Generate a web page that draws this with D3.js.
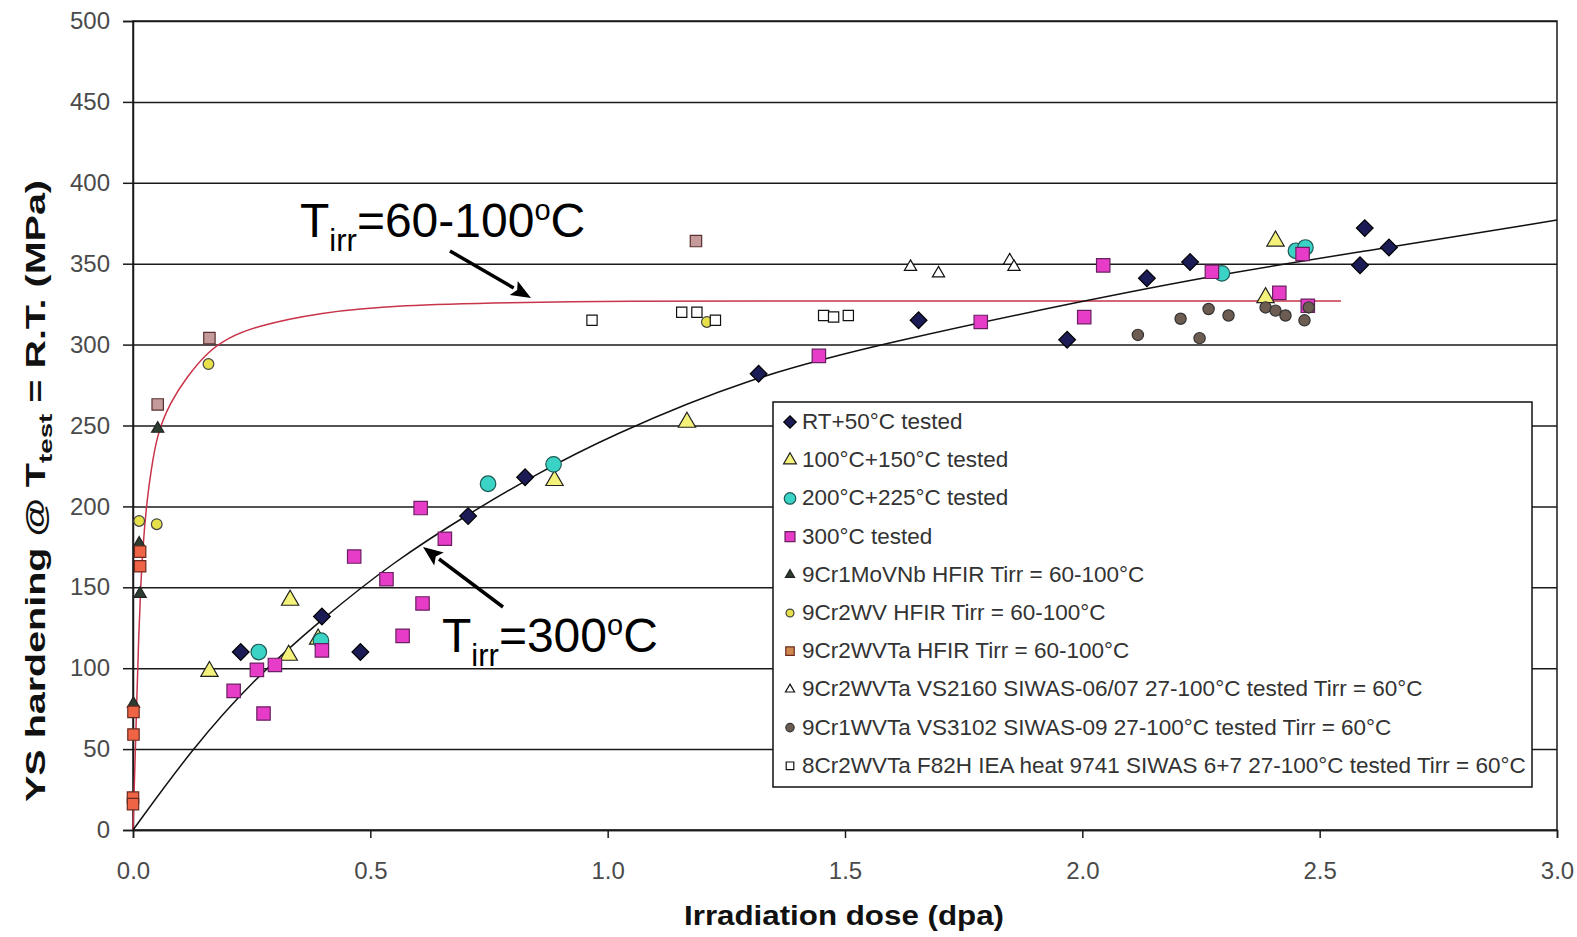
<!DOCTYPE html>
<html>
<head>
<meta charset="utf-8">
<script src="https://cdn.jsdelivr.net/npm/d3@7"></script>
<style>
  body { margin: 0; background: #fff; }
  svg { display: block; font-family: "Liberation Sans", Arial, sans-serif; }
  .tick text { fill: #4a4a4a; font-size: 24px; }
  .grid line { stroke: #1a1a1a; stroke-width: 1.5; }
  .grid path { display: none; }
</style>
</head>
<body>
<svg id="chart" width="1577" height="937"></svg>
<script>
// dose (dpa), YS hardening (MPa)
const rt50 = [[0.227,110],[0.398,132],[0.479,110],[0.706,194],[0.826,218],[1.318,282],[1.655,315],
  [1.968,303],[2.136,341],[2.227,351],[2.585,349],[2.595,372],[2.646,360]]
const t100_150 = [[0.161,98],[0.331,142],[0.328,108],[0.39,118],[0.888,216],[1.167,252],[2.407,364],[2.386,329]]
const t200_225 = [[0.265,110],[0.396,117],[0.748,214],[0.886,226],[2.294,344],[2.45,358],[2.47,360]]
const t300 = [[0.212,86],[0.261,99],[0.275,72],[0.299,102],[0.398,111],[0.466,169],[0.534,155],[0.568,120],
  [0.610,140],[0.606,199],[0.657,180],[1.445,293],[1.786,314],[2.004,317],[2.044,349],[2.273,345],
  [2.415,332],[2.464,356],[2.475,324]]
const cr1MoVNb = [[0.001,78],[0.015,146],[0.013,177],[0.052,248]]
const cr2WV = [[0.013,191],[0.050,189],[0.159,288],[1.209,314]]
const cr2WVTaHfir = [[0.001,73],[0.001,59],[0.0,20],[0.0,16],[0.015,172],[0.015,163]]
const cr2WVTaHfirGrey = [[0.052,263],[0.161,304],[1.186,364]]
const vs2160 = [[1.638,348],[1.697,344],[1.847,352],[1.856,348]]
const vs3102 = [[2.117,306],[2.207,316],[2.247,304],[2.266,322],[2.308,318],[2.386,323],[2.407,321],
  [2.428,318],[2.468,315],[2.477,323]]
const f82h = [[0.967,315],[1.156,320],[1.188,320],[1.227,315],[1.455,318],[1.476,317],[1.507,318]]

// trend curves
const curveLowT = [[0,0],[0.004,40],[0.008,80],[0.012,120],[0.016,150],[0.022,180],[0.03,205],[0.038,222],
  [0.051,245],[0.078,264],[0.113,280],[0.159,296],[0.2,304],[0.254,311],[0.394,320],[0.563,324.5],
  [0.8,326],[1.0,327],[1.5,327],[2.0,327],[2.545,327]]
const curve300 = [[0,0],[0.124,50],[0.25,92],[0.4,131],[0.55,166],[0.71,196],[0.85,220],[1.0,243],
  [1.3,280],[1.6,302],[2.0,327],[2.3,344],[2.6,358],[3.0,377]]

const xTicks = [0, 0.5, 1.0, 1.5, 2.0, 2.5, 3.0]
const yTicks = [0, 50, 100, 150, 200, 250, 300, 350, 400, 450, 500]

const series = [
  {name: 'RT+50°C tested', data: rt50, sym: 'diamond', fill: '#1b1b55', stroke: '#000', size: 140},
  {name: '100°C+150°C tested', data: t100_150, sym: d3.symbolTriangle, fill: '#f4f27a', stroke: '#222', size: 130},
  {name: '200°C+225°C tested', data: t200_225, sym: d3.symbolCircle, fill: '#3ad3c6', stroke: '#1d5a55', size: 190},
  {name: '300°C tested', data: t300, sym: d3.symbolSquare, fill: '#e63cc8', stroke: '#6a2060', size: 180},
  {name: '9Cr1MoVNb HFIR Tirr = 60-100°C', data: cr1MoVNb, sym: d3.symbolTriangle, fill: '#2c3d30', stroke: '#222', size: 65},
  {name: '9Cr2WV HFIR Tirr = 60-100°C', data: cr2WV, sym: d3.symbolCircle, fill: '#e6e04a', stroke: '#444', size: 90},
  {name: '9Cr2WVTa HFIR Tirr = 60-100°C', data: cr2WVTaHfir, sym: d3.symbolSquare, fill: '#ee6444', stroke: '#6a2a20', size: 130, legendFill: '#d08a50'},
  {name: null, data: cr2WVTaHfirGrey, sym: d3.symbolSquare, fill: '#c49a9a', stroke: '#5a3030', size: 130},
  {name: '9Cr2WVTa VS2160 SIWAS-06/07 27-100°C tested Tirr = 60°C', data: vs2160, sym: d3.symbolTriangle, fill: '#fff', stroke: '#111', size: 65},
  {name: '9Cr1WVTa VS3102 SIWAS-09 27-100°C tested Tirr = 60°C', data: vs3102, sym: d3.symbolCircle, fill: '#6c5c52', stroke: '#333', size: 100},
  {name: '8Cr2WVTa F82H IEA heat 9741 SIWAS 6+7 27-100°C tested Tirr = 60°C', data: f82h, sym: d3.symbolSquare, fill: '#fff', stroke: '#111', size: 105}
]

const svg = d3.select('#chart')
const plotL = 133, plotR = 1557, plotT = 21, plotB = 830

const x = d3.scaleLinear().domain([0, 3]).range([plotL, plotR])
const y = d3.scaleLinear().domain([0, 500]).range([plotB, plotT])

// gridlines
svg.append('g').attr('class', 'grid')
  .attr('transform', `translate(${plotL},0)`)
  .call(d3.axisLeft(y).tickValues(yTicks).tickSize(-(plotR - plotL)).tickFormat(''))

// plot frame
svg.append('rect')
  .attr('x', plotL).attr('y', plotT)
  .attr('width', plotR - plotL).attr('height', plotB - plotT)
  .attr('fill', 'none').attr('stroke', '#1a1a1a').attr('stroke-width', 1.5)

const yAxis = svg.append('g')
  .attr('transform', `translate(${plotL},0)`)
  .call(d3.axisLeft(y).tickValues(yTicks).tickSize(10).tickPadding(13).tickFormat(d3.format('d')))
yAxis.select('.domain').attr('stroke', '#1a1a1a').attr('stroke-width', 1.5)
yAxis.selectAll('.tick line').attr('stroke', '#1a1a1a').attr('stroke-width', 1.5)

const xAxis = svg.append('g')
  .attr('transform', `translate(0,${plotB})`)
  .call(d3.axisBottom(x).tickValues(xTicks).tickSize(8).tickPadding(24).tickFormat(d3.format('.1f')))
xAxis.select('.domain').attr('stroke', '#1a1a1a').attr('stroke-width', 1.5)
xAxis.selectAll('.tick line').attr('stroke', '#1a1a1a').attr('stroke-width', 1.5)

// axis titles
svg.append('text')
  .attr('x', 844).attr('y', 925)
  .attr('text-anchor', 'middle')
  .attr('font-size', 27).attr('font-weight', 'bold').attr('fill', '#111')
  .attr('textLength', 320).attr('lengthAdjust', 'spacingAndGlyphs')
  .text('Irradiation dose (dpa)')

let yt = svg.append('text')
  .attr('transform', 'translate(45,491) rotate(-90)')
  .attr('text-anchor', 'middle')
  .attr('font-size', 27).attr('font-weight', 'bold').attr('fill', '#111')
  .attr('textLength', 622).attr('lengthAdjust', 'spacingAndGlyphs')
yt.append('tspan').text('YS hardening @ T')
yt.append('tspan').attr('font-size', 19).attr('dy', 7).text('test')
yt.append('tspan').attr('dy', -7).text(' = R.T. (MPa)')

// trend curves
const line = d3.line().x(d => x(d[0])).y(d => y(d[1])).curve(d3.curveBasis)

svg.append('path').datum(curveLowT)
  .attr('d', line).attr('fill', 'none')
  .attr('stroke', '#c8344a').attr('stroke-width', 1.5)

svg.append('path').datum(curve300)
  .attr('d', line).attr('fill', 'none')
  .attr('stroke', '#111').attr('stroke-width', 1.5)

// points
function symPath(s, size) {
  if (s === 'diamond') return d3.symbol(d3.symbolSquare, size)()
  return d3.symbol(s, size)()
}

series.forEach(s => {
  svg.append('g').selectAll('path')
    .data(s.data)
    .enter()
    .append('path')
    .attr('d', symPath(s.sym, s.size))
    .attr('transform', d => `translate(${x(d[0])},${y(d[1])})` + (s.sym === 'diamond' ? ' rotate(45)' : ''))
    .attr('fill', s.fill)
    .attr('stroke', s.stroke)
    .attr('stroke-width', 1.2)
})

// annotations
function arrow(x1, y1, x2, y2) {
  let ang = Math.atan2(y2 - y1, x2 - x1)
  let len = 20, w = 8
  let bx = x2 - len * Math.cos(ang), by = y2 - len * Math.sin(ang)
  svg.append('line')
    .attr('x1', x1).attr('y1', y1).attr('x2', bx).attr('y2', by)
    .attr('stroke', '#000').attr('stroke-width', 3.5)
  svg.append('path')
    .attr('d', `M${x2},${y2} L${bx + w * Math.sin(ang)},${by - w * Math.cos(ang)} L${bx + 4 * Math.cos(ang)},${by + 4 * Math.sin(ang)} L${bx - w * Math.sin(ang)},${by + w * Math.cos(ang)} Z`)
    .attr('fill', '#000')
}

let a1 = svg.append('text').attr('x', 300).attr('y', 237).attr('font-size', 48).attr('fill', '#000')
a1.append('tspan').text('T')
a1.append('tspan').attr('font-size', 31).attr('dy', 14).text('irr')
a1.append('tspan').attr('dy', -14).text('=60-100')
a1.append('tspan').attr('font-size', 29).attr('dy', -17).text('o')
a1.append('tspan').attr('dy', 17).text('C')
arrow(450, 251, 531, 298)

let a2 = svg.append('text').attr('x', 442).attr('y', 652).attr('font-size', 48).attr('fill', '#000')
a2.append('tspan').text('T')
a2.append('tspan').attr('font-size', 31).attr('dy', 14).text('irr')
a2.append('tspan').attr('dy', -14).text('=300')
a2.append('tspan').attr('font-size', 29).attr('dy', -17).text('o')
a2.append('tspan').attr('dy', 17).text('C')
arrow(503, 607, 423, 547)

// legend
const legItems = series.filter(s => s.name)
const lg = svg.append('g')
lg.append('rect')
  .attr('x', 773).attr('y', 402).attr('width', 759).attr('height', 385)
  .attr('fill', '#fff').attr('stroke', '#111').attr('stroke-width', 1.5)

legItems.forEach((s, i) => {
  let cy = 422 + i * 38.2
  lg.append('path')
    .attr('d', symPath(s.sym, s.size * 0.55))
    .attr('transform', `translate(790,${cy})` + (s.sym === 'diamond' ? ' rotate(45)' : ''))
    .attr('fill', s.legendFill || s.fill)
    .attr('stroke', s.stroke)
    .attr('stroke-width', 1.2)
  lg.append('text')
    .attr('x', 802).attr('y', cy + 7)
    .attr('font-size', 22.5).attr('fill', '#333')
    .text(s.name)
})
</script>
</body>
</html>
